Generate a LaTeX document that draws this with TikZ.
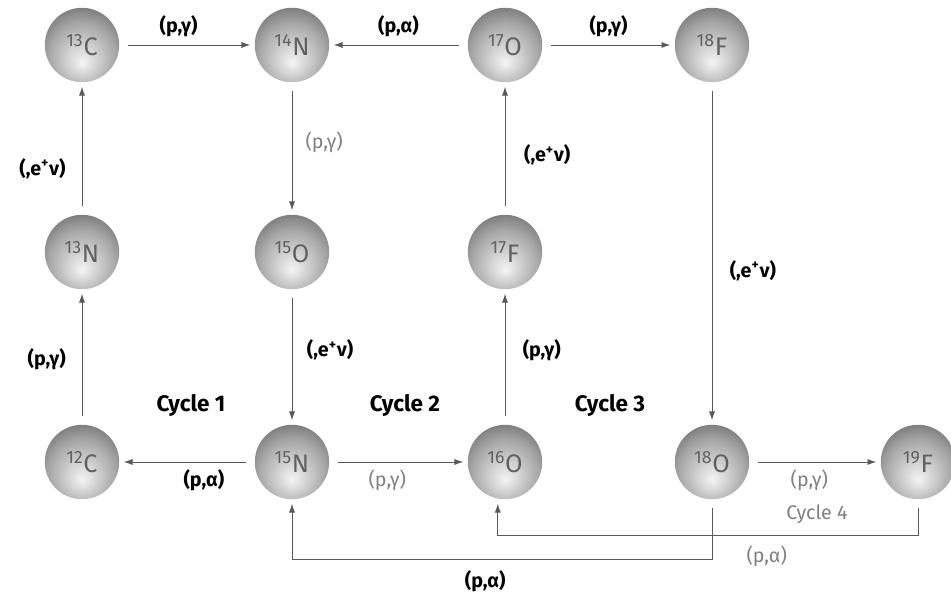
\documentclass[tikz,border=0pt]{standalone}
\usepackage{fontspec}
\setmainfont{Fira Sans}
\usetikzlibrary{arrows.meta, positioning}

% grey sphere, light spot low in the middle
\pgfdeclareradialshading{nucball}{\pgfpoint{0bp}{-12bp}}{color(0bp)=(gray!8); color(10bp)=(gray!35); color(22bp)=(gray!68); color(34bp)=(black!56); color(44bp)=(black!70); color(60bp)=(black!80)}

\begin{document}
\begin{tikzpicture}[
    x=0.025cm, y=-0.025cm,
    nucleus/.style={circle, shading=nucball, minimum size=1.86cm, inner sep=0pt, font=\fontsize{18}{20}\selectfont, text=black!62},
    reaction/.style={-{Latex[length=2.2mm, width=1.5mm]}, draw=black!65, line width=0.6pt, shorten >=3pt, shorten <=6pt},
    lab/.style={font=\bfseries\fontsize{14}{16}\selectfont, text=black},
    glab/.style={font=\fontsize{14}{16}\selectfont, text=black!50},
    cyc/.style={font=\bfseries\fontsize{16}{18}\selectfont, text=black}
]
\useasboundingbox (0,0) rectangle (951,599);

% Top row
\node[nucleus] (nuc_c13) at (82, 45)  {\textsuperscript{13}C};
\node[nucleus] (nuc_n14) at (292, 45) {\textsuperscript{14}N};
\node[nucleus] (nuc_o17) at (505, 45) {\textsuperscript{17}O};
\node[nucleus] (nuc_f18) at (712, 45) {\textsuperscript{18}F};

% Middle row
\node[nucleus] (nuc_n13) at (82, 252)  {\textsuperscript{13}N};
\node[nucleus] (nuc_o15) at (292, 252) {\textsuperscript{15}O};
\node[nucleus] (nuc_f17) at (505, 252) {\textsuperscript{17}F};

% Bottom row
\node[nucleus] (nuc_c12) at (82, 462)  {\textsuperscript{12}C};
\node[nucleus] (nuc_n15) at (292, 462) {\textsuperscript{15}N};
\node[nucleus] (nuc_o16) at (505, 462) {\textsuperscript{16}O};
\node[nucleus] (nuc_o18) at (712, 462) {\textsuperscript{18}O};
\node[nucleus] (nuc_f19) at (918, 462) {\textsuperscript{19}F};

% Cycle names
\node[cyc] (cyc_one)   at (191, 405) {Cycle 1};
\node[cyc] (cyc_two)   at (405, 405) {Cycle 2};
\node[cyc] (cyc_three) at (610, 405) {Cycle 3};
\node[glab] (cyc_four) at (817, 514) {Cycle 4};

% Cycle 1
\draw[reaction] (nuc_c12) -- node[lab, pos=0.48, left=8pt] {(p,γ)} (nuc_n13);
\draw[reaction] (nuc_n13) -- node[lab, pos=0.35, left=8pt] {(,e\textsuperscript{+}ν)} (nuc_c13);
\draw[reaction] (nuc_c13) -- node[lab, above=2pt, xshift=-6pt] {(p,γ)} (nuc_n14);
\draw[reaction] (nuc_n14) -- node[glab, pos=0.45, right=6pt] {(p,γ)} (nuc_o15);
\draw[reaction] (nuc_o15) -- node[lab, pos=0.45, right=7pt] {(,e\textsuperscript{+}ν)} (nuc_n15);
\draw[reaction] (nuc_n15) -- node[lab, below=2pt, xshift=12pt] {(p,α)} (nuc_c12);

% Cycle 2
\draw[reaction] (nuc_n15) -- node[glab, below=2pt, xshift=-8pt] {(p,γ)} (nuc_o16);
\draw[reaction] (nuc_o16) -- node[lab, pos=0.55, right=9pt] {(p,γ)} (nuc_f17);
\draw[reaction] (nuc_f17) -- node[lab, pos=0.45, right=10pt] {(,e\textsuperscript{+}ν)} (nuc_o17);
\draw[reaction] (nuc_o17) -- node[lab, above=2pt] {(p,α)} (nuc_n14);

% Cycle 3
\draw[reaction] (nuc_o17) -- node[lab, above=2pt] {(p,γ)} (nuc_f18);
\draw[reaction] (nuc_f18) -- node[lab, pos=0.55, right=9pt] {(,e\textsuperscript{+}ν)} (nuc_o18);
\draw[reaction] (nuc_o18.south) -- ++(0,60) -| node[lab, pos=0.27, below=4pt] {(p,α)} (nuc_n15.south);

% Cycle 4
\draw[reaction] (nuc_o18) -- node[glab, below=2pt, xshift=-4pt] {(p,γ)} (nuc_f19);
\draw[reaction] (nuc_f19.south) -- ++(0,36) -| node[glab, pos=0.18, below=4pt] {(p,α)} ([xshift=-0.18cm]nuc_o16.south);

\end{tikzpicture}
\end{document}
